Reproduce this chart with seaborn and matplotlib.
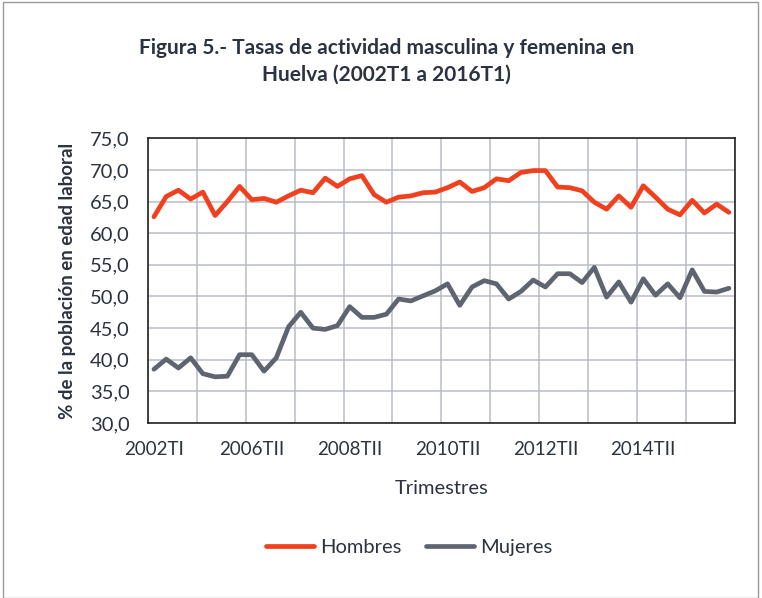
import numpy as np
import pandas as pd
import seaborn as sns
import matplotlib.pyplot as plt
from matplotlib.ticker import FixedLocator, FuncFormatter

# tasas de actividad (%) por trimestre
hombres = [62.6, 65.8, 66.8, 65.4, 66.5, 62.8, 65.0, 67.4, 65.3, 65.5, 64.9, 65.9,
           66.8, 66.4, 68.7, 67.4, 68.6, 69.1, 66.1, 64.9, 65.7, 65.9, 66.4, 66.5,
           67.2, 68.1, 66.6, 67.2, 68.6, 68.3, 69.6, 69.9, 69.9, 67.3, 67.2, 66.7,
           64.9, 63.8, 65.9, 64.1, 67.5, 65.7, 63.8, 62.9, 65.2, 63.2, 64.6, 63.3]
mujeres = [38.5, 40.1, 38.7, 40.3, 37.8, 37.3, 37.4, 40.8, 40.8, 38.2, 40.3, 45.2,
           47.5, 45.0, 44.8, 45.4, 48.4, 46.7, 46.7, 47.2, 49.6, 49.3, 50.1, 50.9,
           52.0, 48.6, 51.5, 52.5, 52.0, 49.6, 50.8, 52.6, 51.5, 53.6, 53.6, 52.2,
           54.6, 49.9, 52.3, 49.1, 52.8, 50.2, 52.0, 49.8, 54.2, 50.8, 50.7, 51.3]
etiquetas = ["2002TI", "2006TII", "2008TII", "2010TII", "2012TII", "2014TII"]
pos_etiquetas = [0, 8, 16, 24, 32, 40]

n = len(hombres)
df = pd.DataFrame({
    "t": list(range(n)) * 2,
    "valor": hombres + mujeres,
    "serie": ["Hombres"] * n + ["Mujeres"] * n,
})

sns.set_style("white")
plt.rcParams['font.family'] = ['Lato', 'DejaVu Sans']
txt = "#2b3340"

fig = plt.figure(figsize=(7.62, 5.98), dpi=100)
ax = fig.add_axes([0.194, 0.2926, 0.7706, 0.4761])

sns.lineplot(data=df, x="t", y="valor", hue="serie",
             palette={"Hombres": "#f0401e", "Mujeres": "#5f6570"},
             linewidth=3.4, ax=ax, legend=False)

ax.set_xlim(-0.5, n - 0.5)
ax.set_ylim(30, 75)
ax.set_yticks(np.arange(30, 76, 5))
ax.yaxis.set_major_formatter(FuncFormatter(lambda v, p: f"{v:.1f}".replace(".", ",")))

ax.xaxis.set_major_locator(FixedLocator(np.arange(-0.5, n, 4)))
ax.xaxis.set_major_formatter(FuncFormatter(lambda v, p: ""))
ax.xaxis.set_minor_locator(FixedLocator(pos_etiquetas))
ax.set_xticklabels(etiquetas, minor=True)

ax.grid(True, which="major", color="#b9bdc9", linewidth=1.1)
ax.tick_params(axis="x", which="major", length=5, width=1.2, color="#222222", direction="out")
ax.tick_params(axis="x", which="minor", length=0, pad=13, labelsize=13.5, labelcolor=txt)
ax.tick_params(axis="y", length=0, pad=13, labelsize=14.5, labelcolor=txt)
for s in ax.spines.values():
    s.set_color("#222222")
    s.set_linewidth(1.2)

ax.set_xlabel("Trimestres", fontsize=14.5, color=txt, labelpad=16)
ax.set_ylabel("% de la población en edad laboral", fontsize=13.5, fontweight="bold",
              color=txt, labelpad=10)

fig.text(0.507, 0.898, "Figura 5.- Tasas de actividad masculina y femenina en\nHuelva (2002T1 a 2016T1)",
         ha="center", va="center", fontsize=15, fontweight="bold", color=txt,
         linespacing=1.4)

handles = [plt.Line2D([], [], color="#f0401e", lw=3.4),
           plt.Line2D([], [], color="#5f6570", lw=3.4)]
fig.legend(handles, ["Hombres", "Mujeres"], loc="center", bbox_to_anchor=(0.537, 0.085),
           ncol=2, frameon=False, fontsize=14.5, handlelength=2.4, handletextpad=0.3,
           columnspacing=1.2, labelcolor=txt)

fig.patches.append(plt.Rectangle((0.004, 0.0), 0.991, 0.997, transform=fig.transFigure,
                                 fill=False, edgecolor="#9a9a9a", linewidth=1.0))

fig.savefig("out.png", dpi=100)
